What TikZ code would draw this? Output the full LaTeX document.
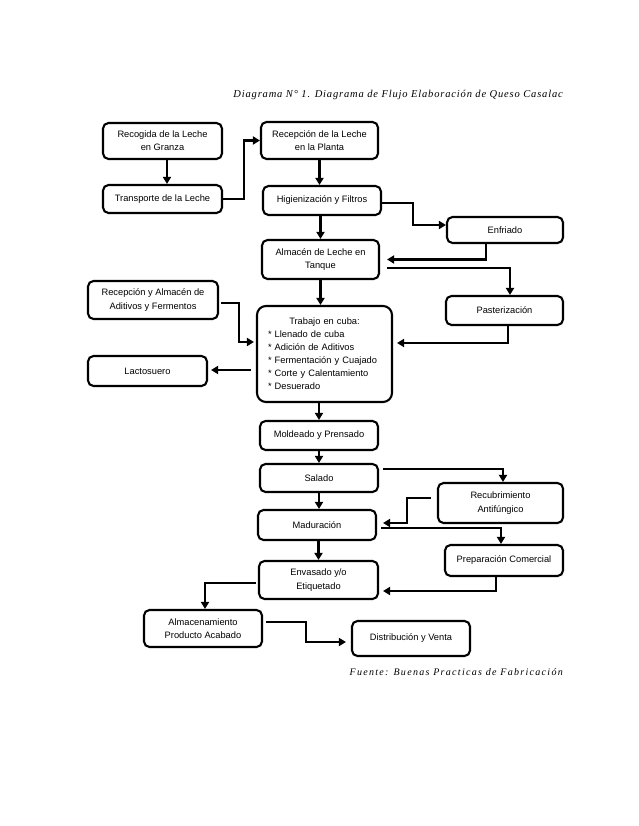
\documentclass[tikz,border=0pt]{standalone}
\usepackage{fontspec}
\setmainfont{Liberation Sans}
\newfontfamily\serifit{Liberation Serif}[ItalicFont={Liberation Serif Italic},LetterSpace=8]
\newfontfamily\serifsp{Liberation Serif}[ItalicFont={Liberation Serif Italic},LetterSpace=13]
\usetikzlibrary{arrows.meta,calc}
\tikzset{
  box/.style={draw=black, line width=2.1pt, rounded corners=5.5pt, fill=white, align=center,
    inner sep=0pt, font=\fontsize{9.3}{13.3}\selectfont},
  arr/.style={draw=black, line width=2.1pt, -{Triangle[length=7pt,width=8pt]}},
}
\begin{document}
\begin{tikzpicture}[x=1pt,y=-1pt]
\useasboundingbox[fill=white] (0,0) rectangle (638,826);
% title and source
\node[anchor=base east, font=\serifit\itshape\fontsize{10.5}{12}\selectfont, inner sep=0pt] (title) at (563,98)
  {Diagrama N° 1. Diagrama de Flujo Elaboración de Queso Casalac};
\node[anchor=base east, font=\serifsp\itshape\fontsize{10}{12}\selectfont, inner sep=0pt] (src) at (563,675)
  {Fuente: Buenas Practicas de Fabricación};
% boxes
\node[box, minimum width=119pt, minimum height=36pt] (rec) at (162.5,141) {Recogida de la Leche\\en Granza};
\node[box, minimum width=119pt, minimum height=28pt] (trans) at (162.5,199) {Transporte de la Leche};
\node[box, minimum width=117pt, minimum height=37pt] (recp) at (319.5,140.5) {Recepción de la Leche\\en la Planta};
\node[box, minimum width=118pt, minimum height=29pt] (hig) at (322,200.5) {Higienización y Filtros};
\node[box, minimum width=116pt, minimum height=26pt] (enf) at (505,230) {Enfriado};
\node[box, minimum width=117pt, minimum height=39pt] (alm) at (320.5,259.5) {Almacén de Leche en\\Tanque};
\node[box, minimum width=130pt, minimum height=38pt] (adit) at (153,300) {Recepción y Almacén de\\Aditivos y Fermentos};
\node[box, minimum width=117pt, minimum height=29pt] (past) at (504.5,310.5) {Pasterización};
\node[box, minimum width=135pt, minimum height=96pt, text width=113pt, align=left, rounded corners=9pt,
  font=\fontsize{9.3}{13}\selectfont] (trab) at (324.5,354)
  {\hspace*{\fill}Trabajo en cuba:\hspace*{\fill}\null\\{}* Llenado de cuba\\{}* Adición de Aditivos\\{}* Fermentación y Cuajado\\{}* Corte y Calentamiento\\{}* Desuerado};
\node[box, minimum width=119pt, minimum height=30pt] (lact) at (147.5,371) {Lactosuero};
\node[box, minimum width=118pt, minimum height=29pt] (mold) at (319,435.5) {Moldeado y Prensado};
\node[box, minimum width=118pt, minimum height=28pt] (sal) at (319,478) {Salado};
\node[box, minimum width=125pt, minimum height=40pt] (recub) at (500.5,503) {Recubrimiento\\Antifúngico};
\node[box, minimum width=118pt, minimum height=30pt] (mad) at (317,525) {Maduración};
\node[box, minimum width=118pt, minimum height=31pt] (prep) at (504,560.5) {Preparación Comercial};
\node[box, minimum width=119pt, minimum height=38pt] (env) at (318.5,580) {Envasado y/o\\Etiquetado};
\node[box, minimum width=118pt, minimum height=37pt] (almac) at (203,628.5) {Almacenamiento\\Producto Acabado};
\node[box, minimum width=118pt, minimum height=35pt] (dist) at (411,638.5) {Distribución y Venta};
% connectors
\draw[arr] ($(rec.south)+(4.5,0)$) -- ($(trans.north)+(4.5,0)$);
\draw[arr] (trans.east) -- ++(21,0) |- (recp.west);
\draw[arr] (recp.south) -- (recp.south |- hig.north);
\draw[arr] ($(hig.east)+(0,2.5)$) -- ++(31,0) |- ($(enf.west)+(0,-5)$);
\draw[arr] (alm.north |- hig.south) -- (alm.north);
\draw[arr, shorten >=7pt] ($(enf.south)+(-19,0)$) |- (alm.east);
\draw[arr] ($(alm.east)+(7,8.5)$) -| ($(past.north)+(5.5,0)$);
\draw[arr] (alm.south) -- (alm.south |- trab.north);
\draw[arr, shorten >=2pt] ($(adit.east)+(2,3)$) -- ++(18,0) |- ($(trab.west)+(0,-12)$);
\draw[arr, shorten >=4pt] ($(past.south)+(3.5,0)$) |- ($(trab.east)+(0,-11)$);
\draw[arr, shorten >=3pt] ($(trab.west)+(-5,16)$) coordinate (tl) -- (tl -| lact.east);
\draw[arr] (mold.north |- trab.south) -- (mold.north);
\draw[arr] (mold.south) -- (sal.north);
\draw[arr] ($(sal.east)+(4,-9)$) -| ($(recub.north)+(2.5,0)$);
\draw[arr, shorten >=6pt] ($(recub.west)+(-6,-5)$) -- ++(-24,0) |- ($(mad.east)+(0,-2)$);
\draw[arr] (sal.south) -- (sal.south |- mad.north);
\draw[arr] ($(mad.east)+(4,3)$) -| ($(prep.north)+(-3,0)$);
\draw[arr] (env.north |- mad.south) -- (env.north);
\draw[arr, shorten >=4pt] ($(prep.south)+(-8,0)$) |- ($(env.east)+(0,11)$);
\draw[arr] ($(env.west)+(-2,3)$) -| ($(almac.north)+(2,0)$);
\draw[arr, shorten >=5pt] ($(almac.east)+(3,-6.5)$) -- ++(40,0) |- ($(dist.west)+(0,3.5)$);
\end{tikzpicture}
\end{document}
